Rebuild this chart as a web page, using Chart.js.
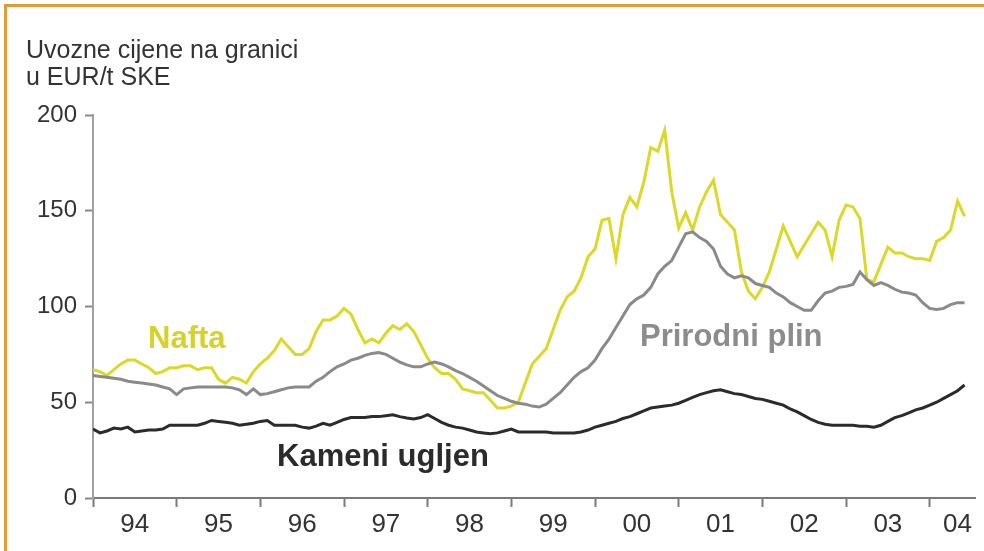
<!DOCTYPE html>
<html>
<head>
<meta charset="utf-8">
<script src="https://cdn.jsdelivr.net/npm/chart.js@4.4.1/dist/chart.umd.min.js"></script>
<style>
  html, body { margin: 0; padding: 0; background: #fff; }
  #wrap { position: relative; width: 984px; height: 551px; overflow: hidden; font-family: "Liberation Sans", Arial, sans-serif; }
  #frame { position: absolute; left: 4px; top: 4px; width: 990px; height: 560px; border-top: 3px solid #e19a3c; border-left: 3px solid #e19a3c; box-sizing: border-box; }
  canvas { position: absolute; left: 0; top: 0; }
  .txt { position: absolute; line-height: 1; white-space: nowrap; }
  .title { font-size: 25px; color: #333; left: 26px; }
  .lab { font-size: 31px; font-weight: bold; }
</style>
</head>
<body>
<div id="wrap">
  <div id="frame"></div>
  <canvas id="graph" width="984" height="551"></canvas>
  <div class="txt title" style="top:37px">Uvozne cijene na granici</div>
  <div class="txt title" style="top:64px">u EUR/t SKE</div>
  <div class="txt lab" style="left:148px;top:322px;color:#d6d22a">Nafta</div>
  <div class="txt lab" style="left:640px;top:320px;color:#8c8c8c">Prirodni plin</div>
  <div class="txt lab" style="left:277px;top:440px;color:#2b2b2b">Kameni ugljen</div>
</div>
<script>
// monthly values, Jan 1994 .. Jun 2004, EUR/t SKE
const nafta = [
  67, 66, 64, 67, 70, 72, 72, 70, 68, 65, 66, 68,
  68, 69, 69, 67, 68, 68, 62, 60, 63, 62, 60, 66,
  70, 73, 77, 83, 79, 75, 75, 78, 87, 93, 93, 95,
  99, 96, 88, 81, 83, 81, 86, 90, 88, 91, 87, 80,
  73, 68, 65, 65, 62, 57, 56, 55, 55, 51, 47, 47,
  48, 50, 60, 70, 74, 78, 88, 98, 105, 108, 115, 126,
  130, 145, 146, 125, 148, 157, 152, 165, 183, 181, 192, 160,
  141, 149, 140, 152, 160, 166, 148, 144, 140, 118, 108, 104,
  110, 118, 130, 142, 134, 126, 132, 138, 144, 140, 126, 145,
  153, 152, 146, 114, 113, 122, 131, 128, 128, 126, 125, 125,
  124, 134, 136, 140, 155, 147
]
const plin = [
  64, 63.5, 63, 62.5, 62, 61, 60.5, 60, 59.5, 59, 58, 57,
  54, 57, 57.5, 58, 58, 58, 58, 58, 57.5, 56.5, 54, 57,
  54, 54.5, 55.5, 56.5, 57.5, 58, 58, 58, 61, 63, 66, 68.5,
  70, 72, 73, 74.5, 75.5, 76, 75, 73, 71, 69.5, 68.5, 68.5,
  70, 71, 70, 68.5, 66.5, 65, 63, 61, 58.5, 56, 53.5, 52,
  50.5, 49.5, 49, 48, 47.5, 49, 52, 55, 59, 63, 66, 68,
  72, 78, 83, 89, 95, 101, 104, 106, 110, 117, 121, 124,
  131, 138, 139, 136, 134, 130, 121, 117, 115, 116, 115, 112,
  111, 110, 107, 105, 102, 100, 98, 98, 103, 107, 108, 110,
  110.5, 111.5, 118, 114, 111, 112.5, 111, 109, 107.5, 107, 106, 102,
  99, 98.5, 99, 101, 102, 102
]
const ugljen = [
  36, 34, 35, 36.5, 36, 37, 34.5, 35, 35.5, 35.5, 36, 38,
  38, 38, 38, 38, 39, 40.5, 40, 39.5, 39, 38, 38.5, 39,
  40, 40.5, 38, 38, 38, 38, 37, 36.5, 37.5, 39, 38, 39.5,
  41, 42, 42, 42, 42.5, 42.5, 43, 43.5, 42.5, 41.8, 41.3, 42,
  43.5, 41.5, 39.5, 38, 37, 36.5, 35.5, 34.5, 34, 33.5, 34, 35,
  36, 34.5, 34.5, 34.5, 34.5, 34.5, 34, 34, 34, 34, 34.5, 35.5,
  37, 38, 39, 40, 41.5, 42.5, 44, 45.5, 47, 47.5, 48, 48.5,
  49.5, 51, 52.5, 54, 55, 56, 56.5, 55.5, 54.5, 54, 53, 52,
  51.5, 50.5, 49.5, 48.5, 46.5, 45, 43, 41, 39.5, 38.5, 38, 38,
  38, 38, 37.5, 37.5, 37, 38, 40, 42, 43, 44.5, 46, 47,
  48.5, 50, 52, 54, 56, 59
]

const yearLabels = ["94", "95", "96", "97", "98", "99", "00", "01", "02", "03", "04"]
// month index where each year label sits (last year is cut short)
const labelPos = [6, 18, 30, 42, 54, 66, 78, 90, 102, 114, 124]
const yearStarts = [0, 12, 24, 36, 48, 60, 72, 84, 96, 108, 120]
const yTicks = [0, 50, 100, 150, 200]

const toXY = arr => arr.map((v, i) => ({ x: i, y: v }))

const ctx = document.getElementById("graph").getContext("2d")

const data = {
    datasets: [
        {
            label: "Prirodni plin",
            data: toXY(plin),
            borderColor: "#8a8a8a",
            borderWidth: 3,
        },
        {
            label: "Kameni ugljen",
            data: toXY(ugljen),
            borderColor: "#2b2b2b",
            borderWidth: 3,
        },
        {
            label: "Nafta",
            data: toXY(nafta),
            borderColor: "#dcd82a",
            borderWidth: 3,
        },
    ],
}

const config = {
    type: "line",
    data: data,
    options: {
        responsive: false,
        animation: false,
        devicePixelRatio: 1,
        layout: { padding: { top: 115, right: 9, left: 0, bottom: 0 } },
        elements: { point: { radius: 0 }, line: { tension: 0 } },
        plugins: { legend: { display: false }, tooltip: { enabled: false } },
        scales: {
            x: {
                type: "linear",
                min: 0,
                max: 126.5,
                afterFit: s => { s.height = 53 },
                afterBuildTicks: s => {
                    s.ticks = yearStarts.concat(labelPos).sort((a, b) => a - b).map(v => ({ value: v }))
                },
                border: { color: "#7a7a7a", width: 2 },
                grid: {
                    drawOnChartArea: false,
                    tickLength: 9,
                    tickWidth: 2,
                    tickColor: c => (c.tick && yearStarts.includes(c.tick.value)) ? "#7a7a7a" : "rgba(0,0,0,0)",
                },
                ticks: {
                    autoSkip: false,
                    maxRotation: 0,
                    padding: 2,
                    color: "#333",
                    font: { family: "'Liberation Sans Narrow', 'Liberation Sans', Arial", size: 26 },
                    callback: v => {
                        const i = labelPos.indexOf(v)
                        return i >= 0 ? yearLabels[i] : ""
                    },
                },
            },
            y: {
                min: 0,
                max: 200,
                afterFit: s => { s.width = 93 },
                afterBuildTicks: s => { s.ticks = yTicks.map(v => ({ value: v })) },
                border: { color: "#a0a0a0", width: 2 },
                grid: { drawOnChartArea: false, tickLength: 8, tickWidth: 2, tickColor: "#8a8a8a" },
                ticks: {
                    padding: 8,
                    color: "#333",
                    font: { family: "'Liberation Sans', Arial", size: 24 },
                },
            },
        },
    },
}

let myChart = new Chart(ctx, config)
</script>
</body>
</html>
